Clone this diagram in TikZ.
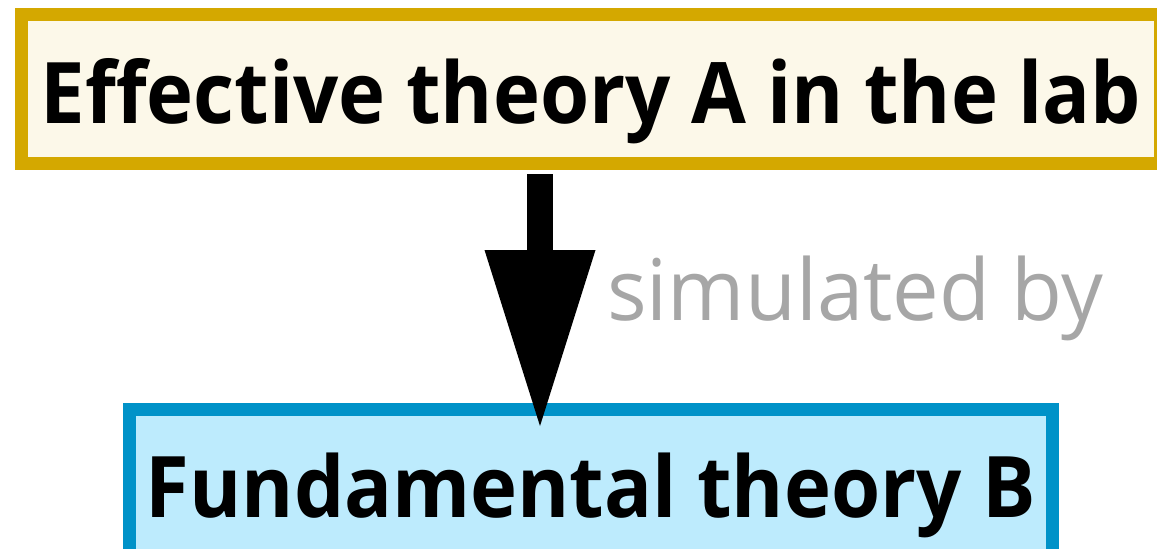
\documentclass[tikz,border=0pt]{standalone}
\usepackage{fontspec}
\setmainfont{Open Sans}
\newfontfamily\theoryfont[FakeStretch=0.936]{Open Sans}
\newfontfamily\simfont[FakeStretch=0.978]{Open Sans}
\usetikzlibrary{arrows.meta, positioning}
\definecolor{labgold}{RGB}{212, 168, 0}
\definecolor{labcream}{RGB}{252, 248, 233}
\definecolor{fundblue}{RGB}{0, 146, 200}
\definecolor{fundfill}{RGB}{189, 235, 253}
\definecolor{simgray}{RGB}{166, 166, 166}

\begin{document}
\begin{tikzpicture}[
    x=1pt, y=-1pt,
    theory/.style={rectangle, line width=13pt, outer sep=0pt, inner sep=0pt, minimum height=149pt, text height=68pt, text depth=0pt, align=center, font=\theoryfont\fontsize{85}{90}\selectfont\bfseries},
    labbox/.style={theory, draw=labgold, fill=labcream, minimum width=1139pt},
    fundbox/.style={theory, draw=fundblue, fill=fundfill, minimum width=923pt},
    simarrow/.style={-{Triangle[width=111pt, length=176pt, line width=0pt]}, line width=26pt, black},
    simlabel/.style={inner sep=0pt, anchor=base west, text=simgray, font=\simfont\fontsize{85}{90}\selectfont}
  ]
  \useasboundingbox (0,0) rectangle (1157,549);

  % Theories
  \node[labbox] (lab) at (591, 89) {Effective theory A in the lab};
  \node[fundbox] (fund) at (591, 483.5) {Fundamental theory B};

  % Arrow
  \draw[simarrow] ([xshift=-51pt, yshift=-10.5pt]lab.south) -- ([xshift=-51pt, yshift=-17pt]fund.north);
  \node[simlabel] (sim) at (607, 320) {simulated by};

\end{tikzpicture}
\end{document}
